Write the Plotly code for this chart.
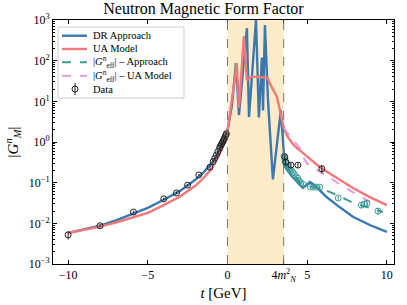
import plotly.graph_objects as go

# ---------------- data ----------------
T_THR = 4 * 0.939 ** 2  # 4 m_N^2 threshold

dr_t = [-10.0, -9.0, -8.0, -7.0, -6.0, -5.0, -4.0, -3.0, -2.0, -1.5, -1.0, -0.7, -0.5, -0.3, -0.15, 0.0,
        0.28, 0.53, 0.72, 1.22, 1.35, 1.79, 1.97, 2.16, 2.23, 2.35, 2.54, 2.85, 3.35, 3.527,
        3.6, 4.0, 4.4, 4.73, 5.0, 5.17, 5.5, 5.8, 6.2, 6.87, 7.4, 7.87, 8.93, 10.0]
dr_g = [0.0058, 0.0072, 0.0088, 0.0118, 0.0165, 0.024, 0.038, 0.062, 0.12, 0.18, 0.3, 0.45, 0.65, 0.95, 1.3, 1.9,
        8.0, 87.0, 4.6, 630.0, 4.1, 1000.0, 4.0, 120.0, 6.0, 750.0, 11.0, 0.12, 6.0, 0.6,
        0.25, 0.15, 0.1, 0.074, 0.09, 0.104, 0.085, 0.066, 0.045, 0.028, 0.02, 0.0145, 0.0091, 0.0062]

ua_t = [-10.0, -9.0, -8.0, -7.0, -6.0, -5.0, -4.0, -3.0, -2.0, -1.5, -1.0, -0.5, -0.2, 0.0,
        0.34, 0.58, 0.72, 1.03, 1.22, 1.5, 2.0, 2.5, 2.79, 3.1, 3.29, 3.527,
        3.8, 4.2, 4.73, 5.8, 6.87, 7.87, 8.93, 10.0]
ua_g = [0.0058, 0.0068, 0.0083, 0.0105, 0.0135, 0.018, 0.028, 0.045, 0.085, 0.13, 0.22, 0.5, 1.0, 1.9,
        16.0, 87.0, 7.0, 400.0, 33.0, 40.0, 40.0, 38.0, 22.0, 13.0, 6.0, 2.2,
        1.3, 0.8, 0.54, 0.24, 0.13, 0.074, 0.044, 0.028]

geff_dr_t = [3.527, 3.92, 4.4, 4.73, 5.2, 5.8, 6.87, 7.87, 8.93, 9.75]
geff_dr_g = [0.30, 0.2, 0.12, 0.087, 0.08, 0.074, 0.05, 0.032, 0.024, 0.019]

geff_ua_t = [3.527, 4.13, 4.55, 4.75, 4.97, 5.38, 6.22, 7.26, 8.51, 8.93]
geff_ua_g = [2.2, 1.12, 0.7, 0.44, 0.3, 0.23, 0.15, 0.08, 0.041, 0.034]

data_t = [-10.0, -8.0, -5.9, -4.0, -3.2, -2.5, -1.8, -1.1, -0.9, -0.8, -0.7, -0.6, -0.5, -0.45, -0.4, -0.35,
          -0.3, -0.25, -0.2, -0.15, -0.1, -0.07, 3.6, 3.65, 3.98, 4.42, 5.92]
data_g = [0.0052, 0.0087, 0.019, 0.04, 0.056, 0.087, 0.155, 0.24, 0.33, 0.4, 0.48, 0.58, 0.7, 0.78, 0.85, 0.92,
          1.0, 1.1, 1.2, 1.35, 1.5, 1.6, 0.43, 0.32, 0.27, 0.27, 0.22]
data_err = [0.0012, 0.0008, 0.0015, 0.003, 0.004, 0.006, 0.01, 0.03, 0.03, 0.03, 0.03, 0.04, 0.05, 0.05, 0.05, 0.05,
            0.06, 0.06, 0.07, 0.07, 0.08, 0.08, 0.08, 0.06, 0.04, 0.04, 0.05]

eff_t = [3.55, 3.6, 3.65, 3.7, 3.75, 3.8, 3.9, 4.0, 4.1, 4.2, 4.3, 4.4, 4.5, 4.6, 4.75, 5.2, 5.4, 5.6, 5.8,
         6.95, 8.4, 8.6, 8.75, 9.45]
eff_g = [0.45, 0.38, 0.33, 0.3, 0.26, 0.24, 0.21, 0.2, 0.18, 0.16, 0.14, 0.13, 0.11, 0.1, 0.09, 0.078, 0.078, 0.078,
         0.078, 0.042, 0.028, 0.03, 0.031, 0.02]
eff_err = [0.04, 0.03, 0.03, 0.02, 0.02, 0.02, 0.02, 0.02, 0.02, 0.015, 0.015, 0.01, 0.01, 0.01, 0.008, 0.008, 0.008,
           0.008, 0.008, 0.005, 0.004, 0.004, 0.004, 0.004]

x_tickvals = [-10, -5, 0, T_THR, 5, 10]
x_ticktext = ["\u221210", "\u22125", "0", "4<i>m</i><sup>2</sup><sub><i>N</i></sub>", "5", "10"]
y_tickvals = [1e-3, 1e-2, 1e-1, 1e0, 1e1, 1e2, 1e3]
y_ticktext = ["10<sup>\u22123</sup>", "10<sup>\u22122</sup>", "10<sup>\u22121</sup>", "10<sup>0</sup>",
              "10<sup>1</sup>", "10<sup>2</sup>", "10<sup>3</sup>"]

legend_labels = ["DR Approach", "UA Model",
                 "|<i>G</i><sup><i>n</i></sup><sub>eff</sub>| \u2013 Approach",
                 "|<i>G</i><sup><i>n</i></sup><sub>eff</sub>| \u2013 UA Model",
                 "Data"]

# ---------------- styles ----------------
BLUE = "#3a78b0"
RED = "#f07878"
TEAL = "#3c9a96"
PINK = "#e49be4"
DARK = "#222222"
FONT = "Liberation Serif"

W, H = 407, 305
ML, MR, MT, MB = 53, 13, 20, 41
PW, PH = W - ML - MR, H - MT - MB


def px(x):
    return (x - ML) / PW


def py(y):
    return (H - MB - y) / PH


fig = go.Figure()

fig.add_trace(go.Scatter(x=dr_t, y=dr_g, mode="lines", name=legend_labels[0],
                         line=dict(color=BLUE, width=2.4)))
fig.add_trace(go.Scatter(x=ua_t, y=ua_g, mode="lines", name=legend_labels[1],
                         line=dict(color=RED, width=2.4)))
fig.add_trace(go.Scatter(x=geff_dr_t, y=geff_dr_g, mode="lines", name=legend_labels[2],
                         line=dict(color=TEAL, width=2, dash="dash")))
fig.add_trace(go.Scatter(x=geff_ua_t, y=geff_ua_g, mode="lines", name=legend_labels[3],
                         line=dict(color=PINK, width=2, dash="dash")))
fig.add_trace(go.Scatter(x=eff_t, y=eff_g, mode="markers", name="eff data",
                         marker=dict(symbol="circle-open", size=6, color=TEAL, line=dict(width=1)),
                         error_y=dict(type="data", array=eff_err, color=TEAL, thickness=1, width=0)))
fig.add_trace(go.Scatter(x=data_t, y=data_g, mode="markers", name=legend_labels[4],
                         marker=dict(symbol="circle-open", size=6, color=DARK, line=dict(width=1)),
                         error_y=dict(type="data", array=data_err, color=DARK, thickness=1, width=0)))

fig.add_vrect(x0=0, x1=T_THR, fillcolor="#feebc9", line_width=0, layer="below")
for xv in [0, T_THR]:
    fig.add_vline(x=xv, line=dict(color="#777777", width=1, dash="dash"))

# ---------------- hand-drawn legend (matplotlib style) ----------------
fig.add_shape(type="rect", xref="paper", yref="paper", x0=px(58), x1=px(184), y0=py(98), y1=py(27),
              fillcolor="rgba(255,255,255,0.85)", line=dict(color="#cccccc", width=1), layer="above")
rows = [35.7, 49.0, 62.3, 75.7, 89.0]
styles = [(BLUE, "solid", 2.4), (RED, "solid", 2.4), (TEAL, "dash", 2), (PINK, "dash", 2)]
for i, (c, d, w) in enumerate(styles):
    fig.add_shape(type="line", xref="paper", yref="paper", x0=px(62), x1=px(87), y0=py(rows[i]), y1=py(rows[i]),
                  line=dict(color=c, width=w, dash="dash" if d == "dash" else "solid"), layer="above")
# data symbol: open circle with vertical error bar
fig.add_shape(type="line", xref="paper", yref="paper", x0=px(75), x1=px(75), y0=py(rows[4] + 6), y1=py(rows[4] - 6),
              line=dict(color=DARK, width=1), layer="above")
fig.add_shape(type="circle", xref="paper", yref="paper", x0=px(72), x1=px(78), y0=py(rows[4] + 3), y1=py(rows[4] - 3),
              line=dict(color=DARK, width=1), layer="above")
for i, lab in enumerate(legend_labels):
    fig.add_annotation(text=lab, xref="paper", yref="paper", x=px(92), y=py(rows[i]), xanchor="left",
                       yanchor="middle", showarrow=False, borderpad=0,
                       font=dict(family=FONT, size=10.5, color="black"))

fig.update_layout(
    width=W, height=H,
    margin=dict(l=ML, r=MR, t=MT, b=MB),
    paper_bgcolor="white", plot_bgcolor="white",
    font=dict(family=FONT, size=12, color="black"),
    title=dict(text="Neutron Magnetic Form Factor", x=0.5, xanchor="center", y=0.972, yref="container",
               yanchor="middle", font=dict(family=FONT, size=16)),
    showlegend=False,
)
fig.update_xaxes(range=[-10.95, 10.45], tickmode="array", tickvals=x_tickvals, ticktext=x_ticktext,
                 ticks="inside", ticklen=4, tickcolor="black", showline=True, linecolor="black", linewidth=1,
                 mirror="ticks", showgrid=False, zeroline=False, automargin=False,
                 title=dict(text="<i>t</i> [GeV]", font=dict(family=FONT, size=15), standoff=4))
fig.update_yaxes(type="log", range=[-3, 3], tickmode="array", tickvals=y_tickvals, ticktext=y_ticktext,
                 ticks="inside", ticklen=4, tickcolor="black", showline=True, linecolor="black", linewidth=1,
                 mirror="ticks", showgrid=False, zeroline=False, automargin=False,
                 minor=dict(ticks="inside", ticklen=2, tickcolor="black", showgrid=False,
                            tickmode="array",
                            tickvals=[m * 10 ** e for e in range(-3, 3) for m in range(2, 10)]),
                 title=dict(text="|<i>G</i><sup><i>n</i></sup><sub><i>M</i></sub>|", font=dict(family=FONT, size=15),
                            standoff=6))

fig.write_html("out.html", config={"displayModeBar": False},
               post_script="document.body.style.margin='0';")
